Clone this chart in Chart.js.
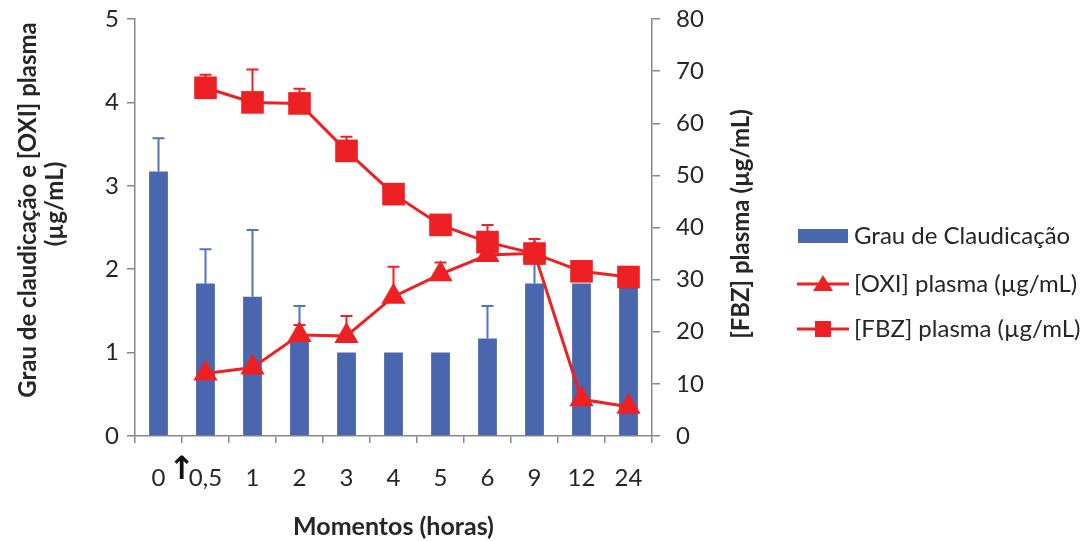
<!DOCTYPE html>
<html>
<head>
<meta charset="utf-8">
<script src="https://cdn.jsdelivr.net/npm/chart.js@4.4.1/dist/chart.umd.min.js"></script>
<style>
  html, body { margin:0; padding:0; background:#fff; }
  #wrap { width:1083px; height:541px; position:relative; }
</style>
</head>
<body>
<div id="wrap"><canvas id="chart" width="1083" height="541"></canvas></div>
<script>
// data
const moments = ['0', '0,5', '1', '2', '3', '4', '5', '6', '9', '12', '24'];
const grau    = [3.17, 1.83, 1.67, 1.17, 1, 1, 1, 1.17, 1.83, 1.83, 1.83];
const grauErr = [0.40, 0.41, 0.80, 0.39, 0, 0, 0, 0.39, 0.38, 0, 0];
const oxi     = [null, 0.75, 0.82, 1.21, 1.20, 1.67, 1.94, 2.17, 2.19, 0.44, 0.35];
const oxiErr  = [null, 0, 0, 0.12, 0.24, 0.36, 0.14, 0, 0, 0, 0];
const fbz     = [null, 66.8, 64.0, 63.8, 54.7, 46.4, 40.5, 37.2, 35.0, 31.6, 30.5];
const fbzErr  = [null, 2.5, 6.3, 2.8, 2.7, 0, 0, 3.3, 2.8, 0, 0];
const leftTicks  = [0, 1, 2, 3, 4, 5];
const rightTicks = [0, 10, 20, 30, 40, 50, 60, 70, 80];

const BLUE = '#4A66AE', BLUE_ERR = '#5274C2', RED = '#ED2024', AXIS = '#888888', TXT = '#262626';
const FONT = 'Lato';
Chart.defaults.font.family = FONT;
Chart.defaults.color = TXT;

// positive-only error bars, drawn right after each dataset so layering follows the datasets
const errorBars = {
  id: 'errorBars',
  afterDatasetDraw(chart, args) {
    const ds = chart.data.datasets[args.index];
    if (!ds.errors) return;
    const ys = chart.scales[ds.yAxisID];
    const ctx = chart.ctx;
    ctx.save();
    ctx.strokeStyle = ds.errorColor;
    ctx.lineWidth = 2;
    args.meta.data.forEach((el, i) => {
      const v = ds.data[i], e = ds.errors[i];
      if (v == null || !e) return;
      const x = el.x, y0 = ys.getPixelForValue(v), y1 = ys.getPixelForValue(v + e);
      ctx.beginPath();
      ctx.moveTo(x, y0); ctx.lineTo(x, y1);
      ctx.moveTo(x - 6, y1); ctx.lineTo(x + 6, y1);
      ctx.stroke();
    });
    ctx.restore();
  }
};

// axis titles, arrow marker and the legend
const decor = {
  id: 'decor',
  afterDraw(chart) {
    const ctx = chart.ctx;
    const a = chart.chartArea;
    ctx.save();
    ctx.fillStyle = TXT;
    ctx.textAlign = 'center';
    ctx.textBaseline = 'middle';
    ctx.font = `bold 24px ${FONT}`;
    ctx.save(); ctx.translate(28, 210); ctx.rotate(-Math.PI / 2);
    ctx.fillText('Grau de claudicação e [OXI] plasma', 0, 0); ctx.restore();
    ctx.save(); ctx.translate(55, 204); ctx.rotate(-Math.PI / 2);
    ctx.fillText('(µg/mL)', 0, 0); ctx.restore();
    ctx.save(); ctx.translate(741, 224); ctx.rotate(-Math.PI / 2);
    ctx.fillText('[FBZ] plasma (µg/mL)', 0, 0); ctx.restore();
    ctx.font = `bold 25px ${FONT}`;
    ctx.fillText('Momentos (horas)', (a.left + a.right) / 2, 527);

    // arrow between 0 and 0,5
    const xs = chart.scales.x;
    const ax = (xs.getPixelForValue(0) + xs.getPixelForValue(1)) / 2;
    ctx.font = `bold 32px 'DejaVu Sans'`;
    ctx.fillStyle = '#111';
    ctx.fillText('↑', ax, 471);

    // legend
    ctx.textAlign = 'left';
    ctx.font = `24px ${FONT}`;
    ctx.fillStyle = BLUE;
    ctx.fillRect(798, 229, 50, 14);
    ctx.fillStyle = TXT;
    ctx.fillText('Grau de Claudicação', 854, 236);
    [[284, 'triangle', '[OXI] plasma (µg/mL)'], [329, 'rect', '[FBZ] plasma (µg/mL)']].forEach(([y, shape, label]) => {
      ctx.strokeStyle = RED; ctx.lineWidth = 3;
      ctx.beginPath(); ctx.moveTo(797, y); ctx.lineTo(849, y); ctx.stroke();
      ctx.fillStyle = RED;
      ctx.beginPath();
      if (shape === 'triangle') {
        ctx.moveTo(823, y - 9); ctx.lineTo(833, y + 7); ctx.lineTo(813, y + 7); ctx.closePath();
      } else {
        ctx.rect(815, y - 8, 16, 16);
      }
      ctx.fill();
      ctx.fillStyle = TXT;
      ctx.fillText(label, 854, y);
    });
    ctx.restore();
  }
};

const noVPad = s => { s.paddingTop = 0; s.paddingBottom = 0; };

new Chart(document.getElementById('chart'), {
  data: {
    labels: moments,
    datasets: [
      { type: 'bar', label: 'Grau de Claudicação', data: grau, errors: grauErr, errorColor: BLUE_ERR,
        yAxisID: 'y', backgroundColor: BLUE, barPercentage: 0.8, categoryPercentage: 0.5, order: 3 },
      { type: 'line', label: '[OXI] plasma (µg/mL)', data: oxi, errors: oxiErr, errorColor: RED,
        yAxisID: 'y', borderColor: RED, backgroundColor: RED, borderWidth: 3,
        pointStyle: 'triangle', pointRadius: 14, pointHoverRadius: 14, pointBorderWidth: 0, order: 2 },
      { type: 'line', label: '[FBZ] plasma (µg/mL)', data: fbz, errors: fbzErr, errorColor: RED,
        yAxisID: 'y1', borderColor: RED, backgroundColor: RED, borderWidth: 3,
        pointStyle: 'rect', pointRadius: 16, pointHoverRadius: 16, pointBorderWidth: 0, order: 1 }
    ]
  },
  options: {
    responsive: false,
    animation: false,
    layout: { padding: { top: 19, left: 0, right: 0, bottom: 0 } },
    plugins: { legend: { display: false }, tooltip: { enabled: false } },
    scales: {
      x: {
        offset: true,
        grid: { offset: true, drawOnChartArea: false, color: AXIS, lineWidth: 1.5, tickLength: 7 },
        border: { color: AXIS, width: 1.5 },
        ticks: { font: { size: 24 }, padding: 21, maxRotation: 0, color: TXT },
        afterFit: s => { s.height = 105; }
      },
      y: {
        position: 'left', min: 0, max: 5,
        grid: { drawOnChartArea: false, color: AXIS, lineWidth: 1.5, tickLength: 8 },
        border: { color: AXIS, width: 1.5 },
        ticks: { font: { size: 24 }, padding: 8, color: TXT },
        afterBuildTicks: s => { s.ticks = leftTicks.map(v => ({ value: v })); },
        afterFit: s => { s.width = 135; noVPad(s); }
      },
      y1: {
        position: 'right', min: 0, max: 80,
        grid: { drawOnChartArea: false, color: AXIS, lineWidth: 1.5, tickLength: 8 },
        border: { color: AXIS, width: 1.5 },
        ticks: { font: { size: 24 }, padding: 16, color: TXT },
        afterBuildTicks: s => { s.ticks = rightTicks.map(v => ({ value: v })); },
        afterFit: s => { s.width = 431; noVPad(s); }
      }
    }
  },
  plugins: [errorBars, decor]
});
</script>
</body>
</html>
